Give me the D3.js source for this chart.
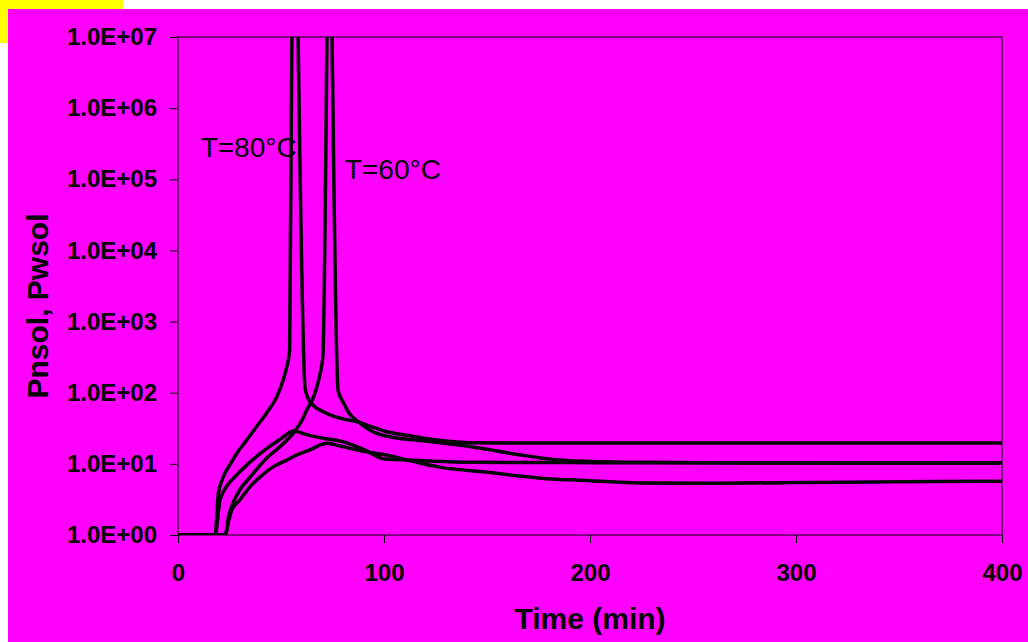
<!DOCTYPE html>
<html>
<head>
<meta charset="utf-8">
<script src="https://cdn.jsdelivr.net/npm/d3@7"></script>
<style>
  body { margin: 0; background: #fff; }
  text { font-family: Arial, "Liberation Sans", sans-serif; }
</style>
</head>
<body>
<script>
/* ### Data ################################################################# */
// time (min) , value
var n80Rise = [[0,1],[18,1],[19.6,3.9],[21,5.5],[22.8,7.4],[25,9.5],[28.5,14],[33,21],[38,33],[43,52],[48,88],[51,150],[52.8,230],[54.2,400],[55.3,1e7]];
var n80Fall = [[58.3,1e7],[61.7,116],[63,85],[66,65],[70,55],[74,48.6],[80,43],[87,39],[93,34],[100,29],[110,25.5],[119,23],[130,21],[143,19.8],[170,19.6],[250,19.6],[400,19.6]];
var w80 = [[0,1],[18,1],[20.4,3.1],[24,5],[28.5,7],[34,10],[40,14],[45,18],[50,22.5],[56,29],[62,26],[70,23],[80,20.5],[90,16],[100.5,11.7],[115,11.2],[143,10.5],[200,10.4],[400,10.3]];

var n60Rise = [[0,1],[23,1],[24.5,1.8],[26,2.5],[30,4.3],[35,6.5],[43,12],[50,18],[56,27],[60,40],[62.5,57],[66,90],[68,140],[69.5,220],[70.3,320],[72.3,1e7]];
var n60Fall = [[74.8,1e7],[77.7,109],[80,75],[83,52],[87,40],[93,30],[101,24.6],[120,21],[143,17.3],[165,13.5],[185,11.3],[200,10.8],[224,10.5],[300,10.3],[400,10.3]];
var w60 = [[0,1],[23,1],[24.4,1.5],[26,2.2],[30,3.1],[35,4.8],[40,6.6],[46,9],[52.8,11.3],[58,13.5],[64,15.7],[72.2,19.5],[78.6,17.8],[90,15],[100,13.5],[113,11],[127,9],[150,7.6],[176,6.3],[200,5.8],[224,5.4],[260,5.35],[300,5.45],[350,5.6],[400,5.7]];

var xTicks = [0, 100, 200, 300, 400];
var yTicks = [1, 1e1, 1e2, 1e3, 1e4, 1e5, 1e6, 1e7];
var yTickLabels = ["1.0E+00","1.0E+01","1.0E+02","1.0E+03","1.0E+04","1.0E+05","1.0E+06","1.0E+07"];
var notes = [{text: "T=80°C", t: 11, v: 2.05e5}, {text: "T=60°C", t: 81, v: 1e5}];

/* ### Layout ############################################################### */
var W = 1028, H = 642;
var margin = {top: 37, right: 26, bottom: 107, left: 178};
var width = W - margin.left - margin.right;
var height = H - margin.top - margin.bottom;

var svg = d3.select("body").append("svg")
    .attr("width", W)
    .attr("height", H);

// background pieces
svg.append("rect").attr("x", 0).attr("y", 0).attr("width", 123).attr("height", 43).attr("fill", "#ffff00");
svg.append("rect").attr("x", 8).attr("y", 9).attr("width", W - 8).attr("height", H - 9).attr("fill", "#ff00ff");

var g = svg.append("g")
    .attr("transform", "translate(" + margin.left + "," + margin.top + ")");

var x = d3.scaleLinear().domain([0, 400]).range([0, width]);
var y = d3.scaleLog().domain([1, 1e7]).range([height, 0]);

g.append("clipPath").attr("id", "clip")
  .append("rect").attr("width", width).attr("height", height);

// axes
var yAxis = d3.axisLeft(y)
    .tickValues(yTicks)
    .tickFormat(function(d, i) { return yTickLabels[i]; })
    .tickSize(8)
    .tickPadding(13);
var xAxis = d3.axisBottom(x)
    .tickValues(xTicks)
    .tickFormat(d3.format("d"))
    .tickSize(8)
    .tickPadding(21);

var gy = g.append("g").call(yAxis);
var gx = g.append("g").attr("transform", "translate(0," + height + ")").call(xAxis);
[gx, gy].forEach(function(a) {
  a.select(".domain").remove();
  a.selectAll("line").attr("stroke", "#000").attr("stroke-width", 1);
  a.selectAll("text")
    .attr("fill", "#000")
    .style("font-size", "24px")
    .style("font-weight", "bold");
});

// frame
g.append("rect")
    .attr("width", width).attr("height", height)
    .attr("fill", "none").attr("stroke", "#000").attr("stroke-width", 1);

// curves
var line = d3.line()
    .curve(d3.curveMonotoneX)
    .x(function(d) { return x(d[0]); })
    .y(function(d) { return y(d[1]); });

g.append("g").attr("clip-path", "url(#clip)")
  .selectAll("path")
  .data([n80Rise, n80Fall, w80, n60Rise, n60Fall, w60])
  .enter().append("path")
    .attr("d", line)
    .attr("fill", "none")
    .attr("stroke", "#000")
    .attr("stroke-width", 3.5)
    .attr("stroke-linejoin", "round");

// annotations
g.selectAll(".note")
  .data(notes)
  .enter().append("text")
    .attr("class", "note")
    .attr("x", function(d) { return x(d.t); })
    .attr("y", function(d) { return y(d.v); })
    .style("font-size", "28px")
    .text(function(d) { return d.text; });

// titles
svg.append("text")
    .attr("x", margin.left + x(200))
    .attr("y", 629)
    .attr("text-anchor", "middle")
    .style("font-size", "30px")
    .style("font-weight", "bold")
    .text("Time (min)");

svg.append("text")
    .attr("transform", "translate(48,306) rotate(-90)")
    .attr("text-anchor", "middle")
    .style("font-size", "30px")
    .style("font-weight", "bold")
    .text("Pnsol, Pwsol");
</script>
</body>
</html>
